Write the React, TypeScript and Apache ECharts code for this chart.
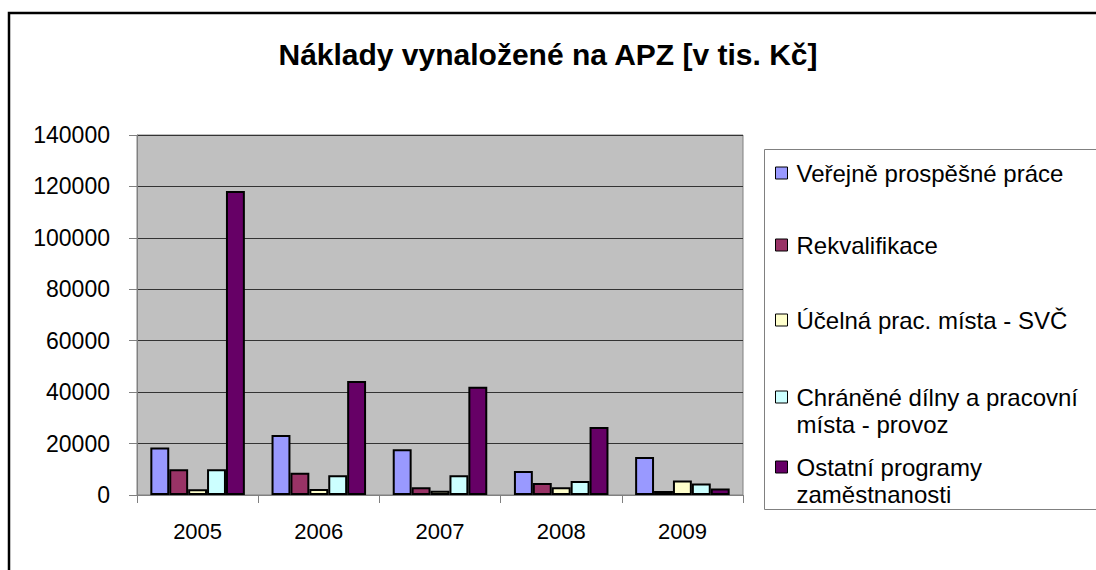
import React, { useEffect, useRef } from "react";
import * as echarts from "echarts";

const titleText = "Náklady vynaložené na APZ [v tis. Kč]";
const years = ["2005", "2006", "2007", "2008", "2009"];
const seriesNames = [
  "Veřejně prospěšné práce",
  "Rekvalifikace",
  "Účelná prac. místa - SVČ",
  "Chráněné dílny a pracovní místa - provoz",
  "Ostatní programy zaměstnanosti",
];
const legendLines = [
  ["Veřejně prospěšné práce"],
  ["Rekvalifikace"],
  ["Účelná prac. místa - SVČ"],
  ["Chráněné dílny a pracovní", "místa - provoz"],
  ["Ostatní programy", "zaměstnanosti"],
];
const verejne = [18500, 23300, 17800, 9300, 14800];
const rekvalifikace = [10000, 8700, 3000, 4700, 1600];
const ucelna = [2200, 2300, 1700, 3000, 5600];
const chranene = [10000, 7700, 7700, 5400, 4500];
const ostatni = [118200, 44300, 42100, 26400, 2500];
const seriesValues = [verejne, rekvalifikace, ucelna, chranene, ostatni];
const colors = ["#9999FF", "#993366", "#FFFFCC", "#CCFFFF", "#660066"];
const yMin = 0;
const yMax = 140000;
const yStep = 20000;

const FONT = "'Liberation Sans', Arial, sans-serif";

export default function App() {
  const ref = useRef<HTMLDivElement>(null);
  useEffect(() => {
    if (!ref.current) return;
    const chart = echarts.init(ref.current, undefined, { renderer: "svg" });
    const legendCenters = [173, 245, 320, 397, 467];
    const LH = 27;
    const legends = seriesNames.map((name, i) => {
      const multi = legendLines[i].length > 1;
      const top = multi ? legendCenters[i] - LH * 1.5 : legendCenters[i] - LH / 2;
      return {
        show: true,
        orient: "vertical",
        left: 775,
        top,
        padding: 0,
        data: [name],
        icon: "rect",
        itemWidth: 12,
        itemHeight: 12,
        itemGap: 0,
        selectedMode: false,
        itemStyle: { borderColor: "#000", borderWidth: 1 },
        formatter: () => (multi ? "\n" + legendLines[i].join("\n") : legendLines[i][0]),
        textStyle: {
          fontFamily: FONT,
          fontSize: 24,
          color: "#000",
          lineHeight: LH,
          padding: [0, 0, 0, 4],
        },
      };
    });
    chart.setOption({
      animation: false,
      backgroundColor: "#fff",
      title: {
        text: titleText,
        left: "center",
        top: 34,
        textStyle: { fontFamily: FONT, fontSize: 30, fontWeight: "bold", color: "#000" },
      },
      legend: legends,
      grid: {
        left: 137,
        top: 135,
        right: 1096 - 743,
        bottom: 570 - 495,
        show: true,
        backgroundColor: "#C0C0C0",
        borderColor: "#808080",
        borderWidth: 1,
        containLabel: false,
      },
      xAxis: {
        type: "category",
        data: years,
        axisLine: { show: true, lineStyle: { color: "#808080", width: 1 } },
        axisTick: { show: true, length: 8, lineStyle: { color: "#808080" } },
        axisLabel: { fontFamily: FONT, fontSize: 22, color: "#000", margin: 25 },
      },
      yAxis: {
        type: "value",
        min: yMin,
        max: yMax,
        interval: yStep,
        axisLine: { show: true, lineStyle: { color: "#808080", width: 1 } },
        axisTick: { show: true, length: 8, lineStyle: { color: "#808080" } },
        axisLabel: {
          fontFamily: FONT,
          fontSize: 23,
          color: "#000",
          margin: 27,
          formatter: (v: number) => String(v),
        },
        splitLine: { show: true, lineStyle: { color: "#333333", width: 1 } },
      },
      graphic: [
        {
          type: "rect",
          shape: { x: 9, y: 13, width: 1300, height: 800 },
          style: { fill: "none", stroke: "#000", lineWidth: 2.5 },
          silent: true,
          z: 100,
        },
        {
          type: "rect",
          shape: { x: 764.5, y: 149.5, width: 500, height: 360 },
          style: { fill: "none", stroke: "#808080", lineWidth: 1 },
          silent: true,
          z: 100,
        },
      ],
      series: seriesNames.map((name, i) => ({
        name,
        type: "bar",
        data: seriesValues[i],
        barGap: "0%",
        barCategoryGap: "22%",
        itemStyle: { color: colors[i], borderColor: "#000", borderWidth: 2 },
      })),
    });
    return () => chart.dispose();
  }, []);
  return (
    <div
      ref={ref}
      style={{ position: "fixed", left: 0, top: 0, width: 1096, height: 570 }}
    />
  );
}
